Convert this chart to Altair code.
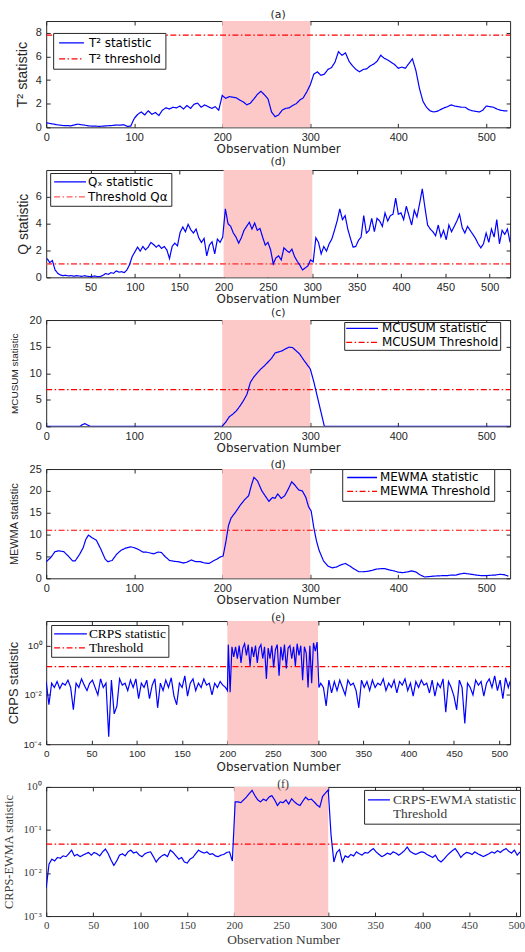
import altair as alt
import pandas as pd

# ---------------- data ----------------
SHIFT_START = [200]
SHIFT_END = [300]

# (a) Hotelling T^2
T2_OBS = list(range(0, 525, 4))
T2_VAL = [
    0.40, 0.33, 0.28, 0.22, 0.18, 0.14, 0.15, 0.12, 0.20, 0.27,
    0.22, 0.18, 0.12, 0.10, 0.10, 0.08, 0.10, 0.12, 0.14, 0.16,
    0.20, 0.18, 0.22, 0.08, 0.10, 0.75, 1.10, 1.30, 1.05, 1.40,
    1.10, 1.25, 1.00, 1.45, 1.65, 1.55, 1.70, 1.65, 1.80, 1.55,
    1.85, 1.60, 1.95, 2.05, 1.70, 1.90, 1.75, 1.60, 1.75, 1.45,
    2.70, 2.45, 2.60, 2.55, 2.50, 2.30, 2.15, 1.90, 2.05, 2.40,
    2.80, 3.05, 2.75, 2.40, 1.30, 0.90, 1.05, 1.45, 1.60, 1.65,
    1.85, 2.00, 2.30, 2.50, 3.00, 3.60, 4.50, 4.70, 4.40, 4.50,
    4.90, 5.05, 5.50, 6.40, 6.10, 6.30, 5.60, 5.20, 4.90, 4.70,
    4.90, 4.95, 5.20, 5.35, 5.60, 6.10, 5.85, 5.70, 5.50, 5.30,
    5.00, 5.10, 5.00, 5.40, 5.80, 4.80, 3.30, 2.20, 1.70, 1.40,
    1.30, 1.35, 1.50, 1.65, 1.75, 1.90, 1.80, 1.75, 1.70, 1.70,
    1.50, 1.40, 1.35, 1.30, 1.45, 1.80, 1.75, 1.70, 1.55, 1.45,
    1.40, 1.40,
]
T2_THR = 7.8

# (b) Q statistic
Q_OBS = list(range(1, 524, 3))
Q_VAL = [
    1.40, 1.10, 1.25, 0.55, 0.30, 0.18, 0.12, 0.15, 0.10, 0.13,
    0.08, 0.12, 0.10, 0.07, 0.12, 0.08, 0.05, 0.07, 0.10, 0.05,
    0.06, 0.15, 0.28, 0.22, 0.35, 0.30, 0.48, 0.38, 0.42, 0.35,
    0.55, 0.95, 1.55, 1.90, 2.25, 1.95, 2.30, 2.05, 2.25, 2.60,
    2.45, 2.25, 2.40, 2.15, 2.30, 2.05, 1.40, 2.30, 2.55, 2.35,
    3.35, 3.75, 3.40, 3.95, 3.55, 3.30, 3.60, 2.95, 2.60, 2.90,
    1.60, 2.40, 2.65, 1.75, 2.85, 2.60, 3.00, 5.10, 4.00, 3.80,
    3.30, 3.00, 2.55, 2.95, 3.50, 3.80, 4.10, 3.60, 4.05, 3.50,
    3.65, 3.00, 2.40, 2.60, 2.05, 1.00, 1.45, 1.60, 1.30, 2.20,
    2.00, 1.85, 2.10, 1.55, 1.20, 0.90, 0.55, 0.70, 0.85, 1.30,
    1.15, 2.95, 2.60, 1.75, 2.30, 1.95, 2.50, 2.85, 3.50, 4.20,
    5.10, 4.30, 4.60, 3.60, 2.90, 2.25, 2.30, 2.75, 3.00, 4.60,
    3.30, 3.50, 4.40, 3.40, 4.40, 4.20, 3.80, 4.80, 4.20, 4.60,
    4.70, 5.90, 4.70, 4.80, 4.30, 5.30, 4.60, 3.90, 5.00, 4.50,
    5.50, 6.60, 5.20, 3.90, 3.60, 3.40, 3.10, 3.90, 3.00, 3.50,
    2.80, 3.90, 3.40, 3.80, 4.20, 4.70, 3.70, 3.30, 3.80, 3.50,
    3.20, 2.90, 2.50, 2.20, 2.50, 3.30, 2.60, 3.60, 3.00, 4.30,
    2.50, 3.50, 3.20, 3.60, 2.60,
]
Q_THR = 1.0

# (c) MCUSUM
MC_OBS = [0, 38, 41, 44, 47, 50, 200, 204, 208, 212, 216, 220, 224, 228,
          232, 236, 240, 244, 248, 252, 256, 260, 264, 268, 272, 276, 280,
          284, 288, 292, 296, 300, 304, 308, 312, 316, 527]
MC_VAL = [0, 0, 0.3, 0.5, 0.25, 0, 0, 0.8, 1.8, 2.3, 2.9, 3.8, 4.8, 6.0,
          8.3, 9.3, 10.1, 10.8, 11.4, 12.1, 12.8, 13.8, 14.0, 14.2, 14.6,
          14.9, 14.8, 14.2, 13.6, 12.6, 11.7, 10.8, 8.4, 5.6, 2.8, 0, 0]
MC_THR = 6.9

# (d) MEWMA
ME_OBS = [0, 5, 10, 14, 20, 25, 30, 33, 38, 42, 45, 48, 52, 57, 62, 67, 70,
          75, 80, 85, 90, 96, 100, 105, 110, 114, 118, 122, 127, 131, 135,
          140, 145, 150, 156, 160, 165, 170, 175, 180, 185, 190, 194, 198,
          201, 204, 207, 210, 215, 220, 225, 230, 233, 236, 240, 245, 250,
          253, 257, 260, 263, 267, 271, 275, 279, 283, 287, 291, 295, 298,
          301, 304, 307, 310, 315, 320, 325, 330, 335, 340, 345, 350, 355,
          360, 365, 370, 375, 380, 385, 390, 395, 400, 405, 410, 415, 420,
          425, 430, 435, 440, 445, 450, 455, 460, 465, 470, 475, 480, 485,
          490, 495, 500, 505, 510, 515, 520, 525]
ME_VAL = [3.8, 4.7, 6.1, 6.3, 6.1, 5.1, 4.0, 4.0, 5.5, 7.0, 8.9, 9.9, 9.3,
          8.7, 6.7, 4.4, 3.8, 4.1, 5.5, 6.4, 6.9, 7.2, 7.0, 6.6, 6.0, 6.0,
          5.8, 5.6, 6.0, 5.9, 5.0, 4.1, 3.9, 3.8, 3.5, 3.7, 4.2, 3.8, 3.8,
          3.5, 3.4, 4.0, 4.4, 4.9, 5.1, 8.2, 12.0, 13.8, 15.1, 16.6, 17.9,
          18.9, 21.2, 23.1, 22.3, 20.0, 18.5, 17.6, 18.5, 18.3, 19.3, 18.3,
          18.9, 20.4, 22.1, 21.2, 20.2, 20.0, 18.5, 16.4, 15.4, 11.6, 8.6,
          6.4, 4.0, 2.8, 2.4, 2.6, 3.1, 3.4, 2.8, 2.1, 1.5, 1.5, 1.6, 1.8,
          2.1, 2.2, 2.2, 1.9, 1.7, 1.4, 1.3, 1.45, 1.7, 1.45, 0.75, 0.3, 0.4,
          0.5, 0.55, 0.6, 0.6, 0.75, 0.7, 1.0, 1.15, 1.0, 0.85, 0.7, 0.6,
          0.6, 0.7, 0.75, 0.9, 0.85, 0.5]
ME_THR = 11.0

# (e) CRPS
CR_OBS = list(range(0, 199, 3)) + [200] + list(range(201, 302, 2)) + list(range(303, 511, 3)) + [512]
CR_VAL = [
    0.035, 0.004, 0.03, 0.02, 0.035, 0.018, 0.03, 0.025, 0.04, 0.02,
    0.0025, 0.03, 0.02, 0.045, 0.025, 0.015, 0.03, 0.04, 0.02, 0.01,
    0.045, 0.02, 0.03, 0.0002, 0.04, 0.0017, 0.0035, 0.045, 0.025, 0.03,
    0.015, 0.04, 0.02, 0.045, 0.007, 0.03, 0.02, 0.04, 0.007, 0.025,
    0.045, 0.003, 0.03, 0.015, 0.04, 0.02, 0.05, 0.009, 0.004, 0.03,
    0.02, 0.06, 0.009, 0.03, 0.045, 0.015, 0.03, 0.02, 0.045, 0.025,
    0.03, 0.01, 0.03, 0.02, 0.035, 0.025, 0.02,
    0.015,
    1.1, 0.013, 0.9, 0.35, 0.9, 0.3, 1.0, 0.2, 0.8, 1.2,
    0.4, 1.1, 0.15, 0.9, 0.35, 1.0, 0.2, 0.8, 1.1, 0.3,
    0.9, 0.045, 0.8, 0.3, 1.0, 0.13, 0.7, 1.1, 0.06, 0.9,
    0.25, 1.1, 0.12, 0.8, 1.0, 0.3, 0.9, 0.15, 1.2, 0.4,
    1.0, 0.04, 0.9, 0.5, 0.02, 1.0, 0.03, 1.3, 0.6, 1.4,
    0.02,
    0.03, 0.02, 0.0036, 0.04, 0.012, 0.035, 0.015, 0.04, 0.02, 0.01,
    0.04, 0.025, 0.03, 0.015, 0.003, 0.04, 0.02, 0.035, 0.015, 0.04,
    0.02, 0.03, 0.025, 0.045, 0.015, 0.03, 0.02, 0.04, 0.012, 0.035,
    0.025, 0.045, 0.015, 0.03, 0.009, 0.035, 0.02, 0.04, 0.025, 0.03,
    0.012, 0.04, 0.009, 0.03, 0.02, 0.045, 0.002, 0.035, 0.02, 0.009,
    0.0025, 0.04, 0.02, 0.0007, 0.03, 0.02, 0.01, 0.04, 0.025, 0.035,
    0.009, 0.03, 0.045, 0.02, 0.06, 0.015, 0.04, 0.007, 0.05, 0.02,
    0.035,
]
CR_THR = 0.14

# (f) CRPS-EWMA
CE_OBS = list(range(0, 505, 3))
CE_VAL = [
    0.0045, 0.016, 0.021, 0.019, 0.023, 0.022, 0.025, 0.024, 0.028, 0.034,
    0.025, 0.027, 0.024, 0.026, 0.028, 0.030, 0.026, 0.030, 0.028, 0.025,
    0.031, 0.036, 0.028, 0.020, 0.015, 0.019, 0.026, 0.028, 0.025, 0.031,
    0.034, 0.029, 0.031, 0.026, 0.024, 0.028, 0.030, 0.031, 0.024, 0.018,
    0.022, 0.025, 0.027, 0.024, 0.034, 0.030, 0.025, 0.021, 0.023, 0.018,
    0.017, 0.021, 0.023, 0.028, 0.034, 0.031, 0.029, 0.031, 0.027, 0.028,
    0.025, 0.024, 0.026, 0.027, 0.030, 0.031, 0.019,
    0.45, 0.45, 0.43, 0.50, 0.58, 0.70, 0.83, 0.63, 0.50, 0.45,
    0.52, 0.48, 0.58, 0.63, 0.50, 0.37, 0.45, 0.43, 0.50, 0.40,
    0.53, 0.45, 0.40, 0.37, 0.47, 0.58, 0.50, 0.52, 0.45, 0.38,
    0.34, 0.60, 0.72, 0.85, 0.076,
    0.018, 0.030, 0.035, 0.018, 0.025, 0.023, 0.027, 0.025, 0.031, 0.028,
    0.026, 0.030, 0.029, 0.033, 0.037, 0.031, 0.027, 0.024, 0.026, 0.029,
    0.027, 0.031, 0.029, 0.026, 0.029, 0.033, 0.040, 0.032, 0.029, 0.027,
    0.029, 0.031, 0.030, 0.027, 0.025, 0.023, 0.026, 0.020, 0.018, 0.021,
    0.025, 0.029, 0.033, 0.037, 0.030, 0.023, 0.027, 0.030, 0.029, 0.027,
    0.031, 0.028, 0.026, 0.024, 0.026, 0.028, 0.031, 0.029, 0.033, 0.030,
    0.034, 0.037, 0.032, 0.029, 0.034, 0.026, 0.031,
]
CE_THR = 0.047

for a, b in [(T2_OBS, T2_VAL), (Q_OBS, Q_VAL), (MC_OBS, MC_VAL), (ME_OBS, ME_VAL),
             (CR_OBS, CR_VAL), (CE_OBS, CE_VAL)]:
    assert len(a) == len(b), (len(a), len(b))

# ---------------- style ----------------
BLUE = "#0000ff"
RED = "#ff0000"
PINK = "#fcc8c8"
INK = "#262626"
SANS = "Liberation Sans"
WIDE = "DejaVu Sans"
SERIF = "Liberation Serif"
DASHDOT = [6, 2.5, 1.5, 2.5]
IN_TICK = {"expr": "-4"}

band_df = pd.DataFrame({"start": SHIFT_START, "end": SHIFT_END})


def build_panel(obs, vals, stat_name, thr, thr_name, x_dom, x_ticks, y_scale, y_ticks,
                y_title, y_title_font, y_title_size, y_title_x,
                title, title_font, title_size, title_offset,
                x_title_font, x_title_size, x_title_y,
                tick_font, tick_size, text_color, width, height, legend_kw,
                thr_color, thr_width, thr_in_legend=True, y_label_expr=None):
    stat_df = pd.DataFrame({"obs": obs, "value": vals, "series": stat_name})
    thr_df = pd.DataFrame({"obs": x_dom, "value": [thr, thr], "series": thr_name})

    xs = alt.Scale(domain=x_dom, nice=False, zero=False)
    x_main = alt.Axis(values=x_ticks, title="Observation Number", titleFont=x_title_font,
                      titleFontSize=x_title_size, titleFontWeight="normal",
                      titleColor=text_color, titleY=x_title_y, titleBaseline="top",
                      labelFont=tick_font, labelFontSize=tick_size, labelColor=text_color,
                      labelPadding=8, labelFlush=False, labelOverlap=False,
                      tickSize=IN_TICK, tickColor=INK, domain=False, grid=False)
    x_top = alt.Axis(orient="top", values=x_ticks, labels=False, title=None,
                     tickSize=IN_TICK, tickColor=INK, domain=False, grid=False)
    y_kw = dict(values=y_ticks, title=y_title, titleFont=y_title_font,
                titleFontSize=y_title_size, titleFontWeight="normal",
                titleColor=text_color, titleX=y_title_x, titleBaseline="middle",
                titleAngle=270, labelFont=tick_font, labelFontSize=tick_size,
                labelColor=text_color, labelPadding=9, labelFlush=False,
                labelOverlap=False, tickSize=IN_TICK, tickColor=INK,
                domain=False, grid=False)
    if y_label_expr:
        y_kw["labelExpr"] = y_label_expr
    y_main = alt.Axis(**y_kw)
    y_right = alt.Axis(orient="right", values=y_ticks, labels=False, title=None,
                       tickSize=IN_TICK, tickColor=INK, domain=False, grid=False)

    legend = alt.Legend(orient="none", title=None, symbolType="stroke",
                        symbolStrokeWidth=1.3, strokeColor=INK, fillColor="white",
                        labelColor="black" if text_color == INK else text_color,
                        labelLimit=300, **legend_kw)

    cdom = [stat_name, thr_name]
    if thr_in_legend:
        crange = [BLUE, thr_color]
        drange = [[1, 0], DASHDOT]
    else:
        crange = [BLUE, "rgba(0,0,0,0)"]
        drange = [[1, 0], [1, 0]]
    cs = alt.Scale(domain=cdom, range=crange)
    ds = alt.Scale(domain=cdom, range=drange)

    band = alt.Chart(band_df).mark_rect(color=PINK).encode(
        x=alt.X("start:Q", scale=xs, axis=x_main), x2="end:Q")

    if thr_in_legend:
        thr_enc = dict(color=alt.Color("series:N", scale=cs, legend=legend),
                       strokeDash=alt.StrokeDash("series:N", scale=ds, legend=legend))
    else:
        thr_enc = dict(color=alt.value(thr_color), strokeDash=alt.value(DASHDOT))
    thr_layer = alt.Chart(thr_df).mark_line(strokeWidth=thr_width, clip=True).encode(
        x=alt.X("obs:Q", scale=xs, axis=None),
        y=alt.Y("value:Q", scale=y_scale, axis=y_right),
        **thr_enc)

    stat_layer = alt.Chart(stat_df).mark_line(strokeWidth=1.2, clip=True).encode(
        x=alt.X("obs:Q", scale=xs, axis=x_top),
        y=alt.Y("value:Q", scale=y_scale, axis=y_main),
        color=alt.Color("series:N", scale=cs, legend=legend),
        strokeDash=alt.StrokeDash("series:N", scale=ds, legend=legend))

    return alt.layer(band, thr_layer, stat_layer).resolve_axis(
        x="independent", y="independent").properties(
        width=width, height=height,
        title=alt.TitleParams(title, font=title_font, fontSize=title_size,
                              fontWeight="normal", color=text_color,
                              offset=title_offset, frame="group", anchor="middle"))


H100 = [0, 100, 200, 300, 400, 500]
H50 = list(range(0, 501, 50))

pa = build_panel(T2_OBS, T2_VAL, "T² statistic", T2_THR, "T² threshold", [0, 527], H100,
                 alt.Scale(domain=[0, 9], nice=False), [0, 2, 4, 6, 8],
                 "T² statistic", SANS, 14.5, -24,
                 "(a)", WIDE, 11, 1, WIDE, 12, 16, SANS, 11, INK, 467, 107,
                 dict(legendX=7, legendY=12, padding=4, symbolSize=625, clipHeight=12,
                      rowPadding=4, symbolOffset=1, labelOffset=4, labelFont=WIDE,
                      labelFontSize=12),
                 RED, 1.2)

pb = build_panel(Q_OBS, Q_VAL, "Qₓ statistic", Q_THR, "Threshold Qα", [0, 523], H50[1:],
                 alt.Scale(domain=[0, 8], nice=False), [0, 2, 4, 6],
                 "Q statistic", SANS, 14, -23,
                 "(d)", WIDE, 11, 3, WIDE, 12, 16, SANS, 11, INK, 467, 108,
                 dict(legendX=4, legendY=3, padding=3, symbolSize=1024, clipHeight=12,
                      rowPadding=3, symbolOffset=0, labelOffset=1, labelFont=WIDE,
                      labelFontSize=12),
                 "#ff5a5a", 1.6)

pc = build_panel(MC_OBS, MC_VAL, "MCUSUM statistic", MC_THR, "MCUSUM Threshold", [0, 527], H100,
                 alt.Scale(domain=[0, 20], nice=False), [0, 5, 10, 15, 20],
                 "MCUSUM statistic", SANS, 10, -32,
                 "(c)", WIDE, 11, -3.5, WIDE, 12, 16, SANS, 11, INK, 467, 107,
                 dict(legendX=300, legendY=2, padding=1, symbolSize=1024, clipHeight=11,
                      rowPadding=1, symbolOffset=0, labelOffset=3, labelFont=WIDE,
                      labelFontSize=12),
                 RED, 1.2)

pd_ = build_panel(ME_OBS, ME_VAL, "MEWMA statistic", ME_THR, "MEWMA Threshold", [0, 527], H100,
                  alt.Scale(domain=[0, 25], nice=False), [0, 5, 10, 15, 20, 25],
                  "MEWMA statistic", SANS, 11, -32,
                  "(d)", WIDE, 11, -7, WIDE, 12, 16, SANS, 11, INK, 467, 110,
                  dict(legendX=298, legendY=0, padding=3, symbolSize=900, clipHeight=11,
                       rowPadding=1, symbolOffset=1, labelOffset=2, labelFont=WIDE,
                       labelFontSize=12),
                  RED, 1.2)

pe = build_panel(CR_OBS, CR_VAL, "CRPS statistic", CR_THR, "Threshold", [0, 512], H50,
                 alt.Scale(type="log", domain=[1e-4, 10], nice=False), [1e-4, 1e-2, 1],
                 "CRPS statistic", SANS, 13, -32.5,
                 "(e)", SERIF, 12, -3, WIDE, 12, 17.5, SANS, 10, INK, 467, 124,
                 dict(legendX=5, legendY=4, padding=2, symbolSize=1089, clipHeight=14,
                      rowPadding=0, symbolOffset=0, labelOffset=1, labelFont=SERIF,
                      labelFontSize=13.5),
                 RED, 1.2,
                 y_label_expr="datum.value > 0.5 ? '10⁰' : datum.value > 0.005 ? '10⁻²' : '10⁻⁴'")

pf = build_panel(CE_OBS, CE_VAL, "CRPS-EWMA statistic", CE_THR, "Threshold", [0, 504], H50,
                 alt.Scale(type="log", domain=[1e-3, 1], nice=False), [1e-3, 1e-2, 1e-1, 1],
                 "CRPS-EWMA statistic", SERIF, 12.5, -37.5,
                 "(f)", SERIF, 12, -10.5, SERIF, 13.5, 17, SERIF, 11, "#3a3a3a", 477, 130,
                 dict(legendX=320, legendY=3, padding=3, symbolSize=484, clipHeight=14,
                      rowPadding=0, symbolOffset=0, labelOffset=2, labelFont=SERIF,
                      labelFontSize=13.5),
                 RED, 1.2, thr_in_legend=False,
                 y_label_expr="datum.value > 0.5 ? '10⁰' : datum.value > 0.05 ? '10⁻¹' : datum.value > 0.005 ? '10⁻²' : '10⁻³'")

chart = alt.concat(pa, pb, pc, pd_, pe, pf, columns=1, spacing=43, align="each",
                   bounds="flush").resolve_scale(
    color="independent", strokeDash="independent").resolve_legend(
    color="independent", strokeDash="independent").properties(
    padding={"left": 1.5, "top": 5, "right": 0, "bottom": 0},
    background="white",
).configure_view(stroke=INK, strokeWidth=1)

chart.save("out.html", embed_options={"renderer": "svg", "actions": False})
